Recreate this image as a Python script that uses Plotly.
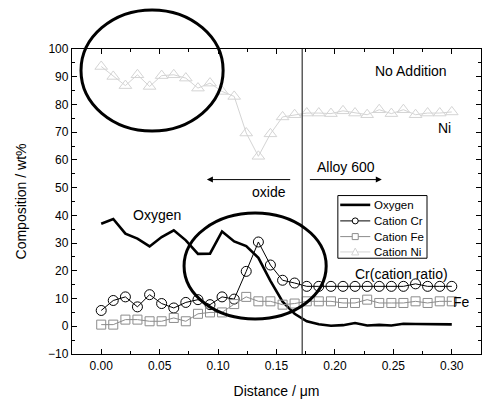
import plotly.graph_objects as go

distance = [0.000, 0.0103, 0.0207, 0.031, 0.0414, 0.0517, 0.0621, 0.0724, 0.0828, 0.0931,
            0.1034, 0.1138, 0.1241, 0.1345, 0.1448, 0.1552, 0.1655, 0.1759, 0.1862, 0.1966,
            0.2069, 0.2172, 0.2276, 0.2379, 0.2483, 0.2586, 0.269, 0.2793, 0.2897, 0.300]

oxygen = [37.0, 38.7, 33.4, 31.6, 28.8, 32.2, 34.6, 31.0, 26.1, 26.2,
          34.2, 30.6, 28.9, 24.7, 16.4, 8.9, 4.5, 1.8, 0.7, 0.2,
          0.4, 1.2, 0.3, 0.5, 0.3, 0.9, 0.8, 0.7, 0.7, 0.7]

cation_cr = [5.7, 9.3, 10.6, 7.0, 11.4, 8.2, 6.6, 8.6, 9.6, 7.8,
             10.6, 9.8, 19.8, 30.4, 22.1, 16.6, 15.6, 14.4, 14.4, 14.4,
             14.4, 14.4, 14.4, 14.4, 14.4, 14.4, 15.3, 14.4, 14.4, 14.4]

cation_fe = [0.6, 0.6, 2.4, 2.4, 1.8, 1.8, 3.0, 1.8, 4.5, 5.0,
             5.0, 8.0, 10.6, 9.0, 9.0, 7.8, 8.2, 9.0, 9.0, 9.0,
             8.4, 8.4, 9.6, 8.4, 8.4, 8.4, 9.0, 8.4, 9.0, 9.0]

cation_ni = [93.7, 90.1, 86.8, 90.7, 86.5, 90.4, 90.7, 89.5, 85.9, 87.7,
             84.7, 82.9, 69.7, 61.3, 69.4, 75.5, 76.3, 76.9, 76.9, 76.7,
             77.7, 76.9, 76.3, 78.1, 76.7, 78.1, 76.3, 76.9, 76.9, 77.3]

series_names = ["Oxygen", "Cation Cr", "Cation Fe", "Cation Ni"]
interface_x = 0.172

FONT = "Arial, Liberation Sans, Helvetica, sans-serif"
BLACK = "black"
GRAY = "#8c8c8c"
LIGHT = "#d4d4d4"

fig = go.Figure()
fig.add_trace(go.Scatter(x=distance, y=oxygen, name=series_names[0], mode="lines",
                         line=dict(color=BLACK, width=2.6)))
fig.add_trace(go.Scatter(x=distance, y=cation_cr, name=series_names[1], mode="lines+markers",
                         line=dict(color=BLACK, width=1),
                         marker=dict(symbol="circle-open", size=10, color=BLACK,
                                     line=dict(width=1))))
fig.add_trace(go.Scatter(x=distance, y=cation_fe, name=series_names[2], mode="lines+markers",
                         line=dict(color=GRAY, width=1),
                         marker=dict(symbol="square-open", size=9, color=GRAY,
                                     line=dict(width=1))))
fig.add_trace(go.Scatter(x=distance, y=cation_ni, name=series_names[3], mode="lines+markers",
                         line=dict(color=LIGHT, width=1),
                         marker=dict(symbol="triangle-up-open", size=11, color=LIGHT,
                                     line=dict(width=1))))

# interface line
fig.add_shape(type="line", xref="x", yref="paper", x0=interface_x, x1=interface_x,
              y0=0, y1=1, line=dict(color="#444444", width=1.3))

# highlight ellipses
fig.add_shape(type="circle", xref="paper", yref="paper", x0=0.022, x1=0.3695,
              y0=0.731, y1=1.128, line=dict(color=BLACK, width=3))
fig.add_shape(type="circle", xref="paper", yref="paper", x0=0.274, x1=0.6215,
              y0=0.115, y1=0.462, line=dict(color=BLACK, width=3))

# arrows
fig.add_annotation(x=0.0904, y=52.9, ax=0.163, ay=52.9, xref="x", yref="y",
                   axref="x", ayref="y", showarrow=True, arrowhead=2, arrowsize=1.2,
                   arrowwidth=1, arrowcolor=BLACK, text="")
fig.add_annotation(x=0.2401, y=52.9, ax=0.1773, ay=52.9, xref="x", yref="y",
                   axref="x", ayref="y", showarrow=True, arrowhead=2, arrowsize=1.2,
                   arrowwidth=1, arrowcolor=BLACK, text="")

labels = [
    ("No Addition", 0.2647, 92.2),
    ("Ni", 0.2934, 71.5),
    ("oxide", 0.1437, 48.3),
    ("Alloy 600", 0.2092, 57.4),
    ("Oxygen", 0.0481, 40.2),
    ("Cr(cation ratio)", 0.2569, 19.0),
    ("Fe", 0.3082, 8.6),
]
for txt, lx, ly in labels:
    fig.add_annotation(x=lx, y=ly, xref="x", yref="y", text=txt, showarrow=False,
                       font=dict(family=FONT, size=14, color=BLACK))

# compact legend box (drawn manually, matching the original's tight spacing)
lg_x0, lg_x1, lg_y0, lg_y1 = 0.650, 0.868, 0.314, 0.5195
fig.add_shape(type="rect", xref="paper", yref="paper", x0=lg_x0, x1=lg_x1,
              y0=lg_y0, y1=lg_y1, line=dict(color=BLACK, width=1), fillcolor="white",
              layer="above")
row_y = [0.4889, 0.4364, 0.3849, 0.3346]
styles = [(BLACK, 2.6, None), (BLACK, 1, "circle"), (GRAY, 1, "square"), (LIGHT, 1, "triangle")]
sx0, sx1, sxm = 0.6558, 0.7292, 0.6925
hx, hy = 3.0 / 408.7, 3.0 / 304.7
for name, ry, (col, w, sym) in zip(series_names, row_y, styles):
    fig.add_shape(type="line", xref="paper", yref="paper", x0=sx0, x1=sx1, y0=ry, y1=ry,
                  line=dict(color=col, width=w), layer="above")
    if sym == "circle":
        fig.add_shape(type="circle", xref="paper", yref="paper", x0=sxm - hx, x1=sxm + hx,
                      y0=ry - hy, y1=ry + hy, line=dict(color=col, width=1),
                      fillcolor="white", layer="above")
    elif sym == "square":
        fig.add_shape(type="rect", xref="paper", yref="paper", x0=sxm - hx, x1=sxm + hx,
                      y0=ry - hy, y1=ry + hy, line=dict(color=col, width=1),
                      fillcolor="white", layer="above")
    elif sym == "triangle":
        path = (f"M {sxm - hx*1.2} {ry - hy} L {sxm + hx*1.2} {ry - hy} "
                f"L {sxm} {ry + hy*1.3} Z")
        fig.add_shape(type="path", xref="paper", yref="paper", path=path,
                      line=dict(color=col, width=1), fillcolor="white", layer="above")
    fig.add_annotation(x=0.7333, y=ry, xref="paper", yref="paper", text=name,
                       showarrow=False, xanchor="left", yanchor="middle",
                       font=dict(family=FONT, size=11.5, color=BLACK))

axis_common = dict(showline=True, linecolor=BLACK, linewidth=1.3, mirror="ticks",
                   ticks="inside", ticklen=5, tickwidth=1, tickcolor=BLACK,
                   showgrid=False, zeroline=False, automargin=False,
                   tickfont=dict(family=FONT, size=12, color=BLACK))

fig.update_xaxes(range=[-0.025, 0.325], tickvals=[0, 0.05, 0.10, 0.15, 0.20, 0.25, 0.30],
                 ticktext=["0.00", "0.05", "0.10", "0.15", "0.20", "0.25", "0.30"],
                 minor=dict(ticks="inside", ticklen=3, dtick=0.025, tick0=0, tickcolor=BLACK),
                 title=dict(text="Distance / μm", font=dict(family=FONT, size=14, color=BLACK),
                            standoff=14),
                 **axis_common)
fig.update_yaxes(range=[-10, 100], dtick=10, tick0=0,
                 minor=dict(ticks="inside", ticklen=3, dtick=5, tick0=0, tickcolor=BLACK),
                 title=dict(text="Composition / wt%", font=dict(family=FONT, size=14, color=BLACK),
                            standoff=18),
                 **axis_common)

fig.update_layout(
    width=489, height=401,
    margin=dict(l=72, r=8, t=49, b=47),
    plot_bgcolor="white", paper_bgcolor="white",
    font=dict(family=FONT, color=BLACK),
    showlegend=False,
)

fig.write_html("out.html")
